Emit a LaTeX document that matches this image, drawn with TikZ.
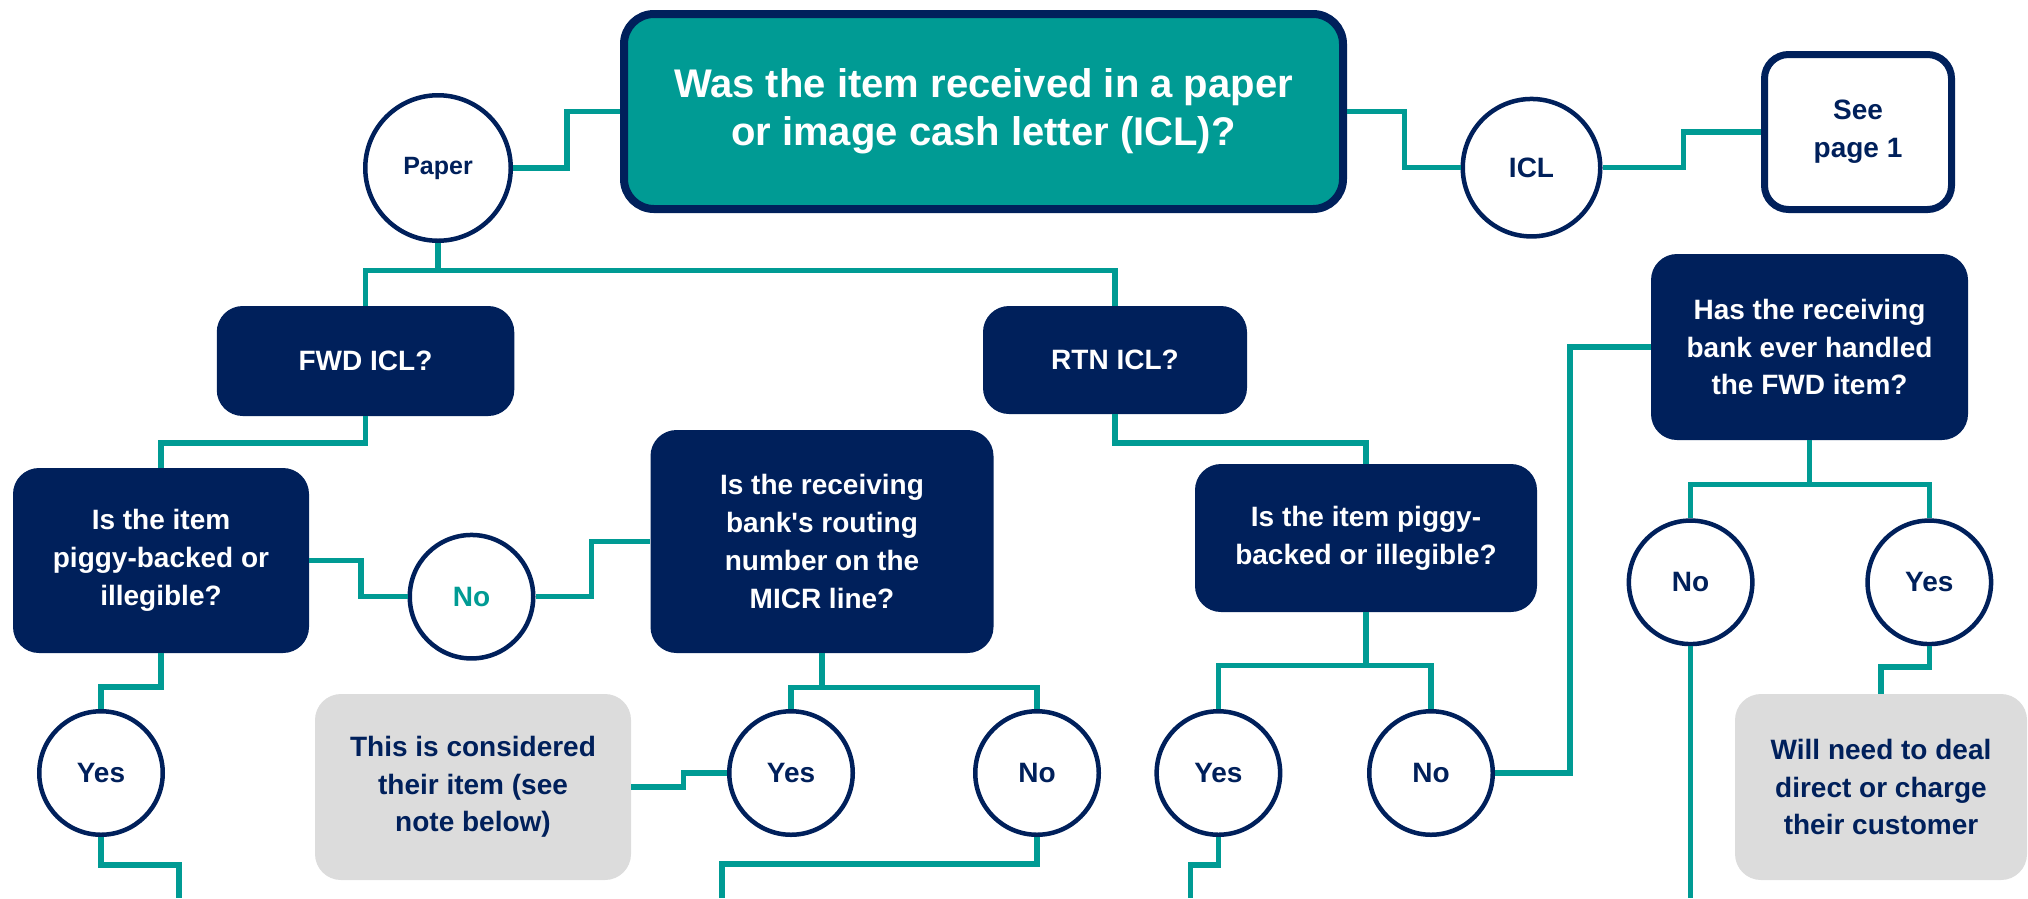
\documentclass[tikz,border=0pt]{standalone}
\usepackage{fontspec}
\setmainfont{Liberation Sans}
\usepackage{tikz}
\definecolor{flowteal}{RGB}{0,155,148}
\definecolor{flownavy}{RGB}{0,32,91}
\definecolor{flowgrey}{RGB}{220,220,220}
\def\boxfont{\bfseries\fontsize{28}{37.7}\selectfont}
\tikzset{
	link/.style={draw=flowteal, line width=5.5pt},
	question/.style={rectangle, rounded corners=26pt, fill=flownavy, text=white, align=center, inner sep=0pt, font=\boxfont},
	outcome/.style={question, fill=flowgrey, text=flownavy},
	answer/.style={circle, draw=flownavy, line width=4.5pt, fill=white, text=flownavy, inner sep=0pt, minimum size=123.5pt, font=\boxfont}
}

\begin{document}
\begin{tikzpicture}[x=1pt,y=1pt]
				%%%%% START %%%%%
				\def\W{2028}
				\def\H{898}
				\def\rowa{-773}
				\def\rowb{-582.3}
				\def\gap{-28}
				
				\useasboundingbox (0,0) rectangle (\W,-\H);
				
				\node[question, fill=flowteal, draw=flownavy, line width=8pt, rounded corners=30pt, minimum width=719pt, minimum height=195pt, font=\bfseries\fontsize{40}{48}\selectfont] (title) at (983.5,-111.5) {Was the item received in a paper\\or image cash letter (ICL)?};
				\node[answer, minimum size=145.5pt, font=\bfseries\fontsize{25}{30}\selectfont] (paper) at (438,-168) {Paper};
				\node[answer, minimum size=137.5pt] (icl) at (1531.5,-167.7) {ICL};
				\node[outcome, fill=white, draw=flownavy, line width=7pt, rounded corners=24pt, minimum width=187pt, minimum height=155pt] (see) at (1858,-132) {See\\page 1};
				
				\node[question, minimum width=297.5pt, minimum height=110pt] (fwd) at (365.5,-361) {FWD ICL?};
				\node[question, minimum width=264pt, minimum height=108pt] (rtn) at (1115,-360) {RTN ICL?};
				\node[question, minimum width=317pt, minimum height=186pt] (has) at (1809.5,-347) {Has the receiving\\bank ever handled\\the FWD item?};
				
				\node[question, minimum width=296pt, minimum height=185pt] (pigl) at (161,-560.5) {Is the item\\piggy-backed or\\illegible?};
				\node[answer, text=flowteal] (noa) at (471.5,-596.7) {No};
				\node[question, minimum width=343pt, minimum height=223pt] (micr) at (822,-541.5) {Is the receiving\\bank\textquotesingle s routing\\number on the\\MICR line?};
				\node[question, minimum width=342pt, minimum height=148pt] (pigr) at (1366,-538) {Is the item piggy-\\backed or illegible?};
				\node[answer] (nod) at (1690.6,\rowb) {No};
				\node[answer] (yesd) at (1929.3,\rowb) {Yes};
				
				\node[answer] (yesa) at (101,\rowa) {Yes};
				\node[outcome, minimum width=316pt, minimum height=186pt] (ours) at (473,-787) {This is considered\\their item (see\\note below)};
				\node[answer] (yesb) at (791,\rowa) {Yes};
				\node[answer] (nob) at (1037,\rowa) {No};
				\node[answer] (yesc) at (1218.4,\rowa) {Yes};
				\node[answer] (noc) at (1431,\rowa) {No};
				\node[outcome, minimum width=292pt, minimum height=186pt] (deal) at (1881,-787) {Will need to deal\\direct or charge\\their customer};
				
				\coordinate (enda) at (179,-\H);
				\coordinate (endb) at (722,-\H);
				\coordinate (endc) at (1190.6,-\H);
				\coordinate (endd) at (1690.6,-\H);
				
				\draw[link] (title.west) -- ++(-53,0) |- (paper.east);
				\draw[link] (title.east) -- ++(57.7,0) |- (icl.west);
				\draw[link] (icl.east) -- ++(81,0) |- (see.west);
				\draw[link] (paper.south) -- ++(0,-27.7) -| (fwd.north);
				\draw[link] (paper.south) -- ++(0,-27.7) -| (rtn.north);
				
				\draw[link] (fwd.south) -- ++(0,-26.7) -| (pigl.north);
				\draw[link] (pigl.east) -- ++(52,0) |- (noa.west);
				\draw[link] (noa.east) -- ++(56,0) |- (micr.west);
				\draw[link] (pigl.south) -- ++(0,-33.7) -| (yesa.north);
				\draw[link] (yesa.south) -- ++(0,\gap) -| (enda);
				
				\draw[link] (micr.south) -- ++(0,-34.3) -| (yesb.north);
				\draw[link] (micr.south) -- ++(0,-34.3) -| (nob.north);
				\draw[link] (yesb.west) -- ++(-43.3,0) |- (ours.east);
				\draw[link] (nob.south) -- ++(0,-27) -| (endb);
				
				\draw[link] (rtn.south) -- ++(0,-28.7) -| (pigr.north);
				\draw[link] (pigr.south) -- ++(0,-53.3) -| (yesc.north);
				\draw[link] (pigr.south) -- ++(0,-53.3) -| (noc.north);
				\draw[link] (yesc.south) -- ++(0,\gap) -| (endc);
				\draw[link] (noc.east) -- ++(75,0) |- (has.west);
				
				\draw[link] (has.south) -- ++(0,-44.3) -| (nod.north);
				\draw[link] (has.south) -- ++(0,-44.3) -| (yesd.north);
				\draw[link] (nod.south) -- (endd);
				\draw[link] (yesd.south) -- ++(0,-20.7) -| (deal.north);
				%%%%% END %%%%%
\end{tikzpicture}
\end{document}
